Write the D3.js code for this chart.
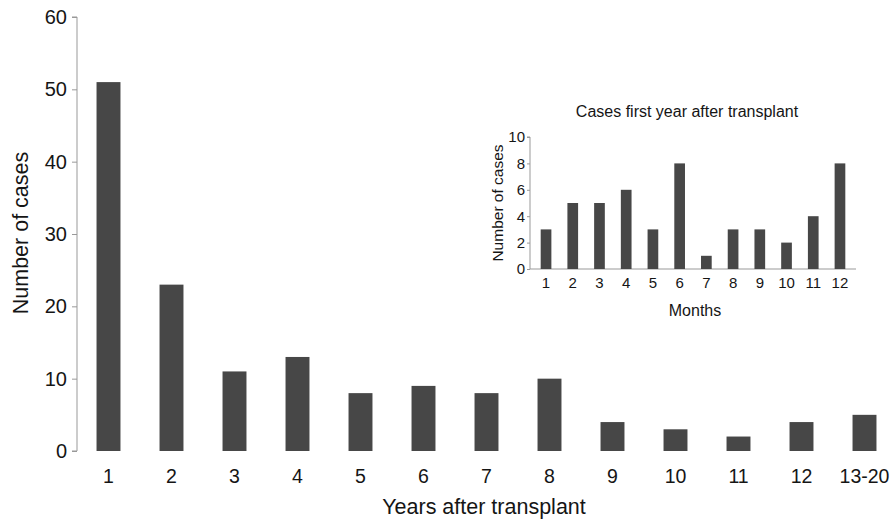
<html>
<meta charset="utf-8">
<style>
  body { margin: 0; background: #fff; }
  text { font-family: "Liberation Sans", Arial, sans-serif; fill: #151515; }
  .axis path, .axis line { stroke: #999; }
</style>
<body>
<script src="https://d3js.org/d3.v7.min.js"></script>
<script>
// main chart data
var years = ["1", "2", "3", "4", "5", "6", "7", "8", "9", "10", "11", "12", "13-20"];
var yearCases = [51, 23, 11, 13, 8, 9, 8, 10, 4, 3, 2, 4, 5];
var yearTicks = [0, 10, 20, 30, 40, 50, 60];

// inset data
var months = ["1", "2", "3", "4", "5", "6", "7", "8", "9", "10", "11", "12"];
var monthCases = [3, 5, 5, 6, 3, 8, 1, 3, 3, 2, 4, 8];
var monthTicks = [0, 2, 4, 6, 8, 10];

var svg = d3.select("body").append("svg")
    .attr("width", 895)
    .attr("height", 519);

var barColor = "#474747";

// ---- main chart
var x = d3.scaleBand().domain(years).range([77, 896])
    .paddingInner(0.62).paddingOuter(0.31);
var y = d3.scaleLinear().domain([0, 60]).range([451, 17]);

var yAxis = svg.append("g")
    .attr("class", "axis")
    .attr("transform", "translate(77,0)")
    .call(d3.axisLeft(y).tickValues(yearTicks).tickSize(5).tickPadding(5));
yAxis.selectAll("text").style("font-size", "20px");
yAxis.select(".domain").attr("d", "M-5," + y(60) + "H0V" + y(0) + "H-5");

var xAxis = svg.append("g")
    .attr("class", "axis")
    .attr("transform", "translate(0,451)")
    .call(d3.axisBottom(x).tickSize(0).tickPadding(18));
xAxis.select(".domain").remove();
xAxis.selectAll("text").style("font-size", "19.5px");

svg.selectAll(".bar")
    .data(yearCases)
    .enter().append("rect")
    .attr("x", function(d, i) { return x(years[i]); })
    .attr("y", function(d) { return y(d); })
    .attr("width", x.bandwidth())
    .attr("height", function(d) { return y(0) - y(d); })
    .style("fill", barColor);

svg.append("text")
    .attr("x", 484).attr("y", 514)
    .style("text-anchor", "middle")
    .style("font-size", "21.5px")
    .text("Years after transplant");

svg.append("text")
    .attr("transform", "translate(28,233) rotate(-90)")
    .style("text-anchor", "middle")
    .style("font-size", "21.5px")
    .text("Number of cases");

// ---- inset
var ix = d3.scaleBand().domain(months).range([530, 856])
    .paddingInner(0.6).paddingOuter(0.4);
var iy = d3.scaleLinear().domain([0, 10]).range([269, 137]);

var iyAxis = svg.append("g")
    .attr("class", "axis")
    .attr("transform", "translate(530,0)")
    .call(d3.axisLeft(iy).tickValues(monthTicks).tickSize(3).tickPadding(2));
iyAxis.selectAll("text").style("font-size", "15px");
iyAxis.select(".domain").attr("d", "M-3," + iy(10) + "H0V" + iy(0));

var ixAxis = svg.append("g")
    .attr("class", "axis")
    .attr("transform", "translate(0,269)")
    .call(d3.axisBottom(ix).tickSize(0).tickPadding(8));
ixAxis.select(".domain").attr("d", "M530,0H856");
ixAxis.selectAll("text").style("font-size", "15px");

svg.selectAll(".ibar")
    .data(monthCases)
    .enter().append("rect")
    .attr("x", function(d, i) { return ix(months[i]); })
    .attr("y", function(d) { return iy(d); })
    .attr("width", ix.bandwidth())
    .attr("height", function(d) { return iy(0) - iy(d); })
    .style("fill", barColor);

svg.append("text")
    .attr("x", 687).attr("y", 117)
    .style("text-anchor", "middle")
    .style("font-size", "16px")
    .text("Cases first year after transplant");

svg.append("text")
    .attr("x", 695).attr("y", 316)
    .style("text-anchor", "middle")
    .style("font-size", "16px")
    .text("Months");

svg.append("text")
    .attr("transform", "translate(503,203) rotate(-90)")
    .style("text-anchor", "middle")
    .style("font-size", "15.5px")
    .text("Number of cases");
</script>
</body>
</html>
